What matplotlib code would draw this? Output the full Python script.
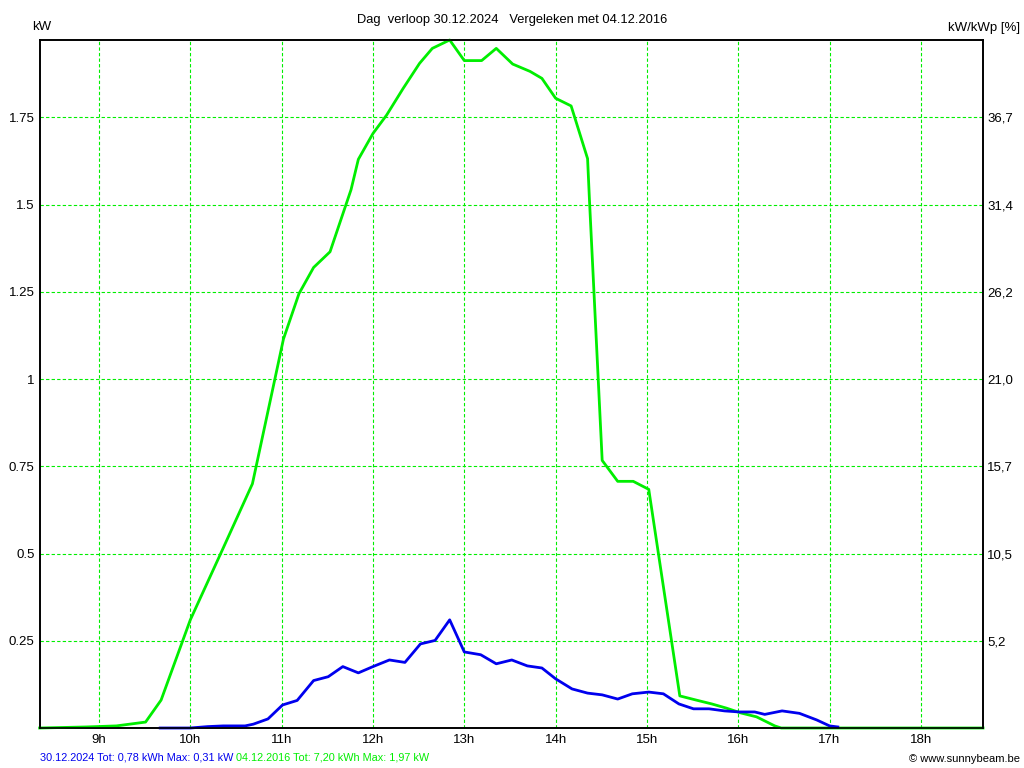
import numpy as np
import matplotlib
matplotlib.use("Agg")
import matplotlib.pyplot as plt

plt.rcParams['font.family'] = ['Liberation Sans', 'DejaVu Sans']

# 04.12.2016 (comparison day), hours / kW
hours_2016 = [8.35, 8.86, 9.19, 9.51, 9.68, 10.0, 10.35, 10.68, 11.02, 11.19, 11.35, 11.53,
              11.76, 11.84, 12.0, 12.15, 12.33, 12.51, 12.65, 12.84, 13.0, 13.19, 13.35,
              13.53, 13.72, 13.85, 14.0, 14.17, 14.35, 14.37, 14.51, 14.68, 14.85, 15.02,
              15.36, 15.54, 15.71, 15.87, 16.03, 16.2, 16.4, 16.47, 17.0, 18.0, 18.68]
kw_2016 = [0.0, 0.003, 0.006, 0.017, 0.08, 0.31, 0.51, 0.70, 1.115, 1.245, 1.32, 1.365,
           1.543, 1.63, 1.704, 1.757, 1.833, 1.905, 1.948, 1.972, 1.913, 1.913, 1.948,
           1.903, 1.882, 1.862, 1.805, 1.783, 1.632, 1.517, 0.767, 0.707, 0.707, 0.684,
           0.092, 0.08, 0.069, 0.057, 0.043, 0.032, 0.006, 0.0, 0.0, 0.0, 0.0]

# 30.12.2024 (current day)
hours_2024 = [9.67, 10.0, 10.19, 10.36, 10.6, 10.69, 10.85, 11.01, 11.17, 11.35, 11.51,
              11.67, 11.84, 12.0, 12.18, 12.35, 12.52, 12.68, 12.84, 13.0, 13.18, 13.35,
              13.52, 13.69, 13.85, 14.0, 14.18, 14.35, 14.51, 14.68, 14.84, 15.02, 15.18,
              15.35, 15.51, 15.68, 15.85, 16.01, 16.18, 16.29, 16.48, 16.67, 16.86, 17.0, 17.09]
kw_2024 = [0.0, 0.0, 0.004, 0.006, 0.006, 0.011, 0.026, 0.066, 0.079, 0.136, 0.147,
           0.176, 0.158, 0.176, 0.195, 0.188, 0.241, 0.251, 0.31, 0.218, 0.21, 0.184,
           0.195, 0.178, 0.172, 0.141, 0.112, 0.1, 0.095, 0.083, 0.098, 0.103, 0.098,
           0.069, 0.055, 0.055, 0.049, 0.046, 0.046, 0.039, 0.049, 0.042, 0.023, 0.006, 0.003]

y_ticks = [0.25, 0.5, 0.75, 1.0, 1.25, 1.5, 1.75]
y_labels = ['0.25', '0.5', '0.75', '1', '1.25', '1.5', '1.75']
pct_labels = ['5,2', '10,5', '15,7', '21,0', '26,2', '31,4', '36,7']
hour_ticks = [9, 10, 11, 12, 13, 14, 15, 16, 17, 18]
hour_labels = [f'{h}h' for h in hour_ticks]

lime = '#00ee00'
blue = '#0000ee'

fig = plt.figure(figsize=(10.24, 7.68), dpi=100)
ax = fig.add_axes([40 / 1024, 40 / 768, 943 / 1024, 688 / 768])

ax.set_xlim(8.354, 18.68)
ax.set_ylim(0, 1.972)

for h in hour_ticks:
    ax.axvline(h, color=lime, lw=0.8, ls=(0, (3, 2)), zorder=1)
for v in y_ticks:
    ax.axhline(v, color=lime, lw=0.8, ls=(0, (3, 2)), zorder=1)

ax.plot(hours_2016, kw_2016, color=lime, lw=2, zorder=3, clip_on=False)
ax.plot(hours_2024, kw_2024, color=blue, lw=2, zorder=4, clip_on=False)

ax.set_xticks(hour_ticks)
ax.set_xticklabels(hour_labels, fontsize=9.5)
ax.set_yticks(y_ticks)
ax.set_yticklabels(y_labels, fontsize=9.5)
ax.tick_params(length=0, pad=4)

ax2 = ax.twinx()
ax2.set_ylim(ax.get_ylim())
ax2.set_yticks(y_ticks)
ax2.set_yticklabels(pct_labels, fontsize=9.5)
ax2.tick_params(length=0, pad=3)

for a in (ax, ax2):
    for s in a.spines.values():
        s.set_color('black')
        s.set_linewidth(1.2)

fig.text(512 / 1024, 1 - 20 / 768, 'Dag  verloop 30.12.2024   Vergeleken met 04.12.2016',
         ha='center', va='center', fontsize=9.3)
fig.text(32 / 1024, 1 - 27 / 768, 'kW', ha='left', va='center', fontsize=9.5)
fig.text(1020 / 1024, 1 - 28 / 768, 'kW/kWp [%]', ha='right', va='center', fontsize=9.5)

t1 = fig.text(40 / 1024, 1 - 757 / 768, '30.12.2024 Tot: 0,78 kWh Max: 0,31 kW ',
              color=blue, ha='left', va='center', fontsize=7.8)
ax.annotate('04.12.2016 Tot: 7,20 kWh Max: 1,97 kW', xy=(1, 0.5), xycoords=t1,
            ha='left', va='center', color=lime, fontsize=7.8, annotation_clip=False)
fig.text(1020 / 1024, 1 - 759 / 768, '\u00a9 www.sunnybeam.be', ha='right', va='center',
         fontsize=8)

fig.savefig('out.png', dpi=100)
